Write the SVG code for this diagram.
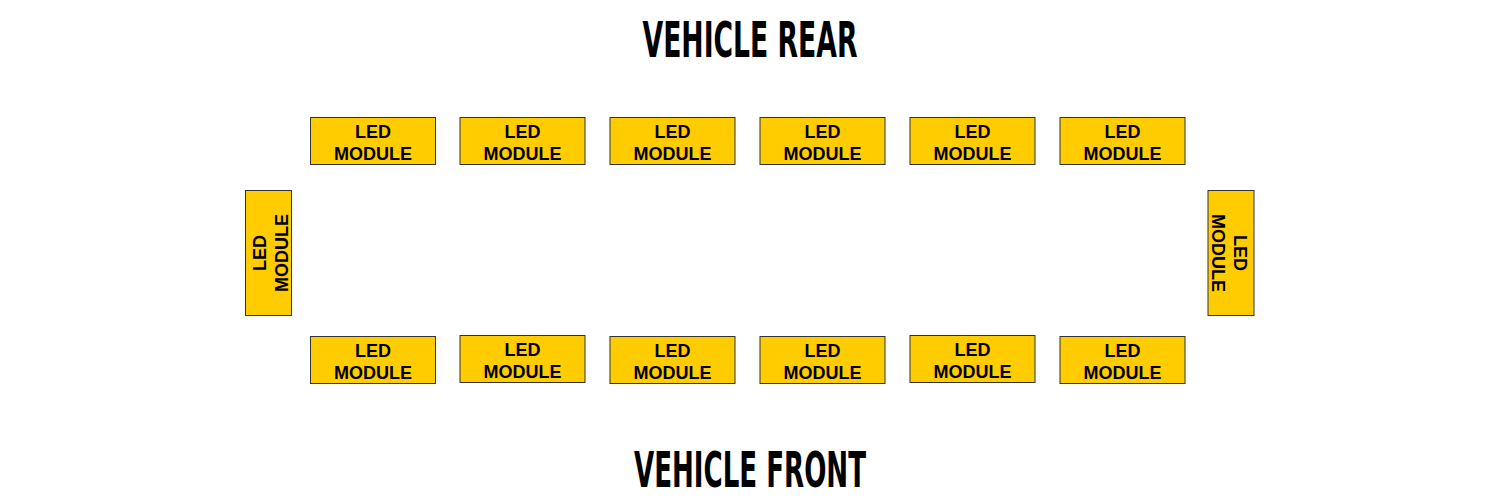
<svg xmlns="http://www.w3.org/2000/svg" width="1500" height="500" viewBox="0 0 1500 500">
<style>
.b{fill:#ffcc00;stroke:#333;stroke-width:1}
.t{font-family:"Liberation Sans",Arial,sans-serif;font-weight:bold;font-size:18px;fill:#000;text-anchor:middle}
.h{font-family:"DejaVu Sans Condensed","DejaVu Sans",sans-serif;font-weight:bold;font-size:50px;fill:#000;text-anchor:middle}
</style>
<defs>
<g id="m"><rect class="b" x="-62.5" y="-23.5" width="125" height="47"/><text class="t" y="-3">LED</text><text class="t" y="19">MODULE</text></g>
<g id="v"><rect class="b" x="-23" y="-62.5" width="46" height="125" transform="rotate(90)"/><text class="t" y="-3">LED</text><text class="t" y="19">MODULE</text></g>
</defs>
<text class="h" x="750" y="57" textLength="215" lengthAdjust="spacingAndGlyphs">VEHICLE REAR</text>
<text class="h" x="750" y="487" textLength="232" lengthAdjust="spacingAndGlyphs">VEHICLE FRONT</text>
<g id="r1"><use href="#m" x="373" y="141"/></g>
<g id="r2"><use href="#m" x="522.5" y="141"/></g>
<g id="r3"><use href="#m" x="672.5" y="141"/></g>
<g id="r4"><use href="#m" x="822.5" y="141"/></g>
<g id="r5"><use href="#m" x="972.5" y="141"/></g>
<g id="r6"><use href="#m" x="1122.5" y="141"/></g>
<g id="f1"><use href="#m" x="373" y="360"/></g>
<g id="f2"><use href="#m" x="522.5" y="359"/></g>
<g id="f3"><use href="#m" x="672.5" y="360"/></g>
<g id="f4"><use href="#m" x="822.5" y="360"/></g>
<g id="f5"><use href="#m" x="972.5" y="359"/></g>
<g id="f6"><use href="#m" x="1122.5" y="360"/></g>
<g id="sl"><use href="#v" transform="translate(268.5,253) rotate(-90)"/></g>
<g id="sr"><use href="#v" transform="translate(1231,253) rotate(90)"/></g>
<g id="connectors"/>
</svg>
